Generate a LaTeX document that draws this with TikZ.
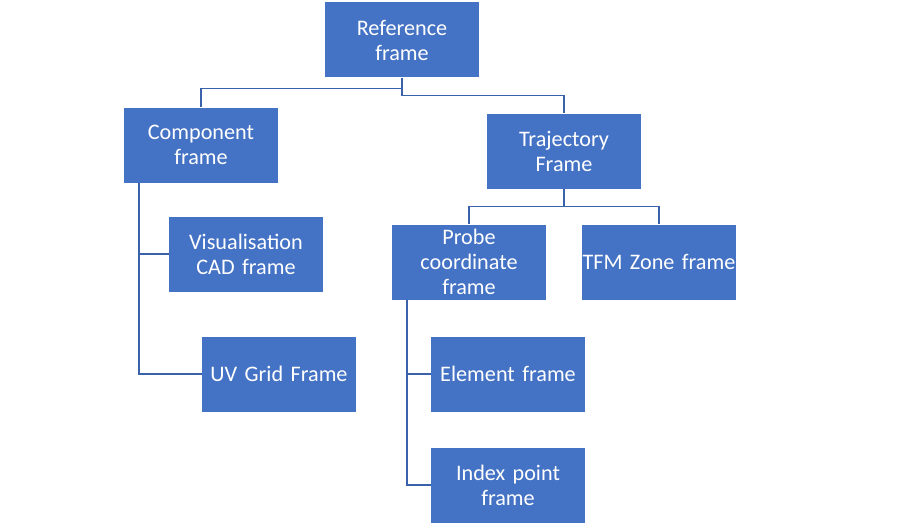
\documentclass[tikz,border=0pt]{standalone}
\usepackage{fontspec}
\setmainfont{Carlito}
\usepackage{tikz}
\usetikzlibrary{calc}

\definecolor{boxblue}{HTML}{4472C4}
\definecolor{lineblue}{HTML}{3A62AA}

\begin{document}
\begin{tikzpicture}[x=1pt,y=-1pt]
\tikzstyle{frame}=[rectangle,fill=boxblue,text=white,minimum width=154pt,minimum height=75pt,
  text width=154pt,inner sep=0pt,align=center,font=\fontsize{22.2}{25}\selectfont]
\tikzstyle{link}=[draw=lineblue,line width=1.5pt]
\useasboundingbox (0,0) rectangle (900,527);
\node[frame] (ref) at (402,40) {Reference\\frame};
\node[frame] (comp) at (201,145) {Component\\frame};
\node[frame] (traj) at (564,151) {Trajectory\\Frame};
\node[frame] (vis) at (246,254) {Visualisation\\CAD frame};
\node[frame] (uv) at (279,374) {UV Grid Frame};
\node[frame] (probe) at (469,262) {Probe\\coordinate\\frame};
\node[frame] (tfm) at (659,262) {TFM Zone frame};
\node[frame] (elem) at (508,374) {Element frame};
\node[frame] (index) at (508,485) {Index point\\frame};
% tree links
\draw[link] (ref.south) -- ++(0,11) -| (comp.north);
\draw[link] (ref.south) -- ++(0,18) -| (traj.north);
\draw[link] ([xshift=15pt]comp.south west) |- (vis.west);
\draw[link] ([xshift=15pt]comp.south west) |- (uv.west);
\draw[link] (traj.south) -- ++(0,18) -| (probe.north);
\draw[link] (traj.south) -- ++(0,18) -| (tfm.north);
\draw[link] ([xshift=15pt]probe.south west) |- (elem.west);
\draw[link] ([xshift=15pt]probe.south west) |- (index.west);
\end{tikzpicture}
\end{document}
